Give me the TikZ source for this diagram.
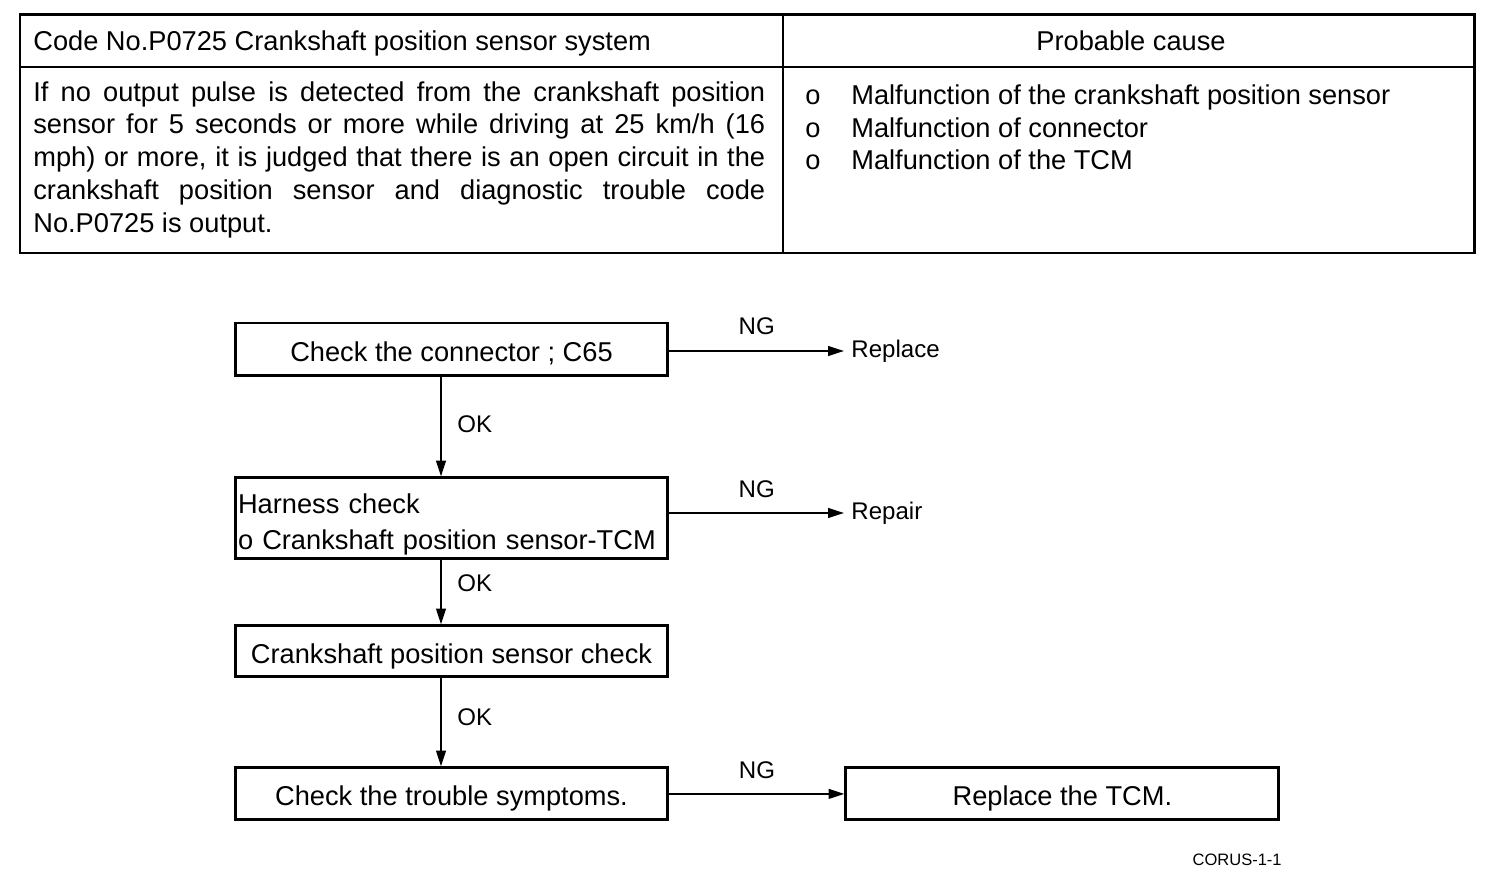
\documentclass[tikz,border=0pt]{standalone}
\usepackage{fontspec}
\setmainfont{Liberation Sans}
\usetikzlibrary{arrows.meta,positioning}
\newcommand{\tabfont}{\fontsize{15.5}{18.7}\selectfont}
\newcommand{\lblfont}{\fontsize{13.7}{16}\selectfont}
\tikzset{
  stepbox/.style={draw, line width=1.7pt, minimum width=8.66cm, minimum height=1.06cm, inner sep=1.7pt, font=\tabfont,
    text height=15pt, text depth=1.4pt},
  flow/.style={-{Triangle[length=9pt,width=5.5pt]}, line width=1.1pt},
  lbl/.style={font=\lblfont},
}
\begin{document}
\begin{tikzpicture}[x=0.02cm,y=-0.02cm,on grid,auto]
  \useasboundingbox (0,0) rectangle (1504,884);
  % table
  \draw[line width=1.7pt] (20,15) rectangle (1474,253);
  \draw[line width=1.2pt] (783,15) -- (783,253) (20,67) -- (1474,67);
  \node[anchor=base west, inner sep=0, font=\tabfont] (code) at (33,51) {Code No.P0725 Crankshaft position sensor system};
  \node[anchor=base, inner sep=0, font=\tabfont] (cause) at (1131,51) {Probable cause};
  \node[anchor=north west, inner sep=0, text width=14.64cm, align=justify, font=\tabfont] (descr) at (33,81)
    {If no output pulse is detected from the crankshaft position\linebreak
     sensor for 5 seconds or more while driving at 25 km/h (16\linebreak
     mph) or more, it is judged that there is an open circuit in the\linebreak
     crankshaft position sensor and diagnostic trouble code\linebreak
     No.P0725 is output.};
  \foreach \txt [count=\i] in {Malfunction of the crankshaft position sensor, Malfunction of connector, Malfunction of the TCM} {
    \node[anchor=base west, inner sep=0, font=\tabfont] (bul\i) at (805,{72.5+\i*32.5}) {o};
    \node[anchor=base west, inner sep=0, font=\tabfont] (item\i) at (851,{72.5+\i*32.5}) {\txt};
  }

  % flow chart
  \node[stepbox] (conn) at (451.5,349.5) {Check the connector ; C65};
  \node[stepbox, minimum height=1.62cm, text width=8.54cm, align=left, font=\fontsize{15.5}{20}\selectfont,
    text height=18.2pt, text depth=23.3pt, below=3.38cm of conn] (harn)
    {Harness check\\o Crankshaft position sensor-TCM};
  \node[stepbox, minimum height=1.02cm, below=2.66cm of harn] (crank) {Crankshaft position sensor check};
  \node[stepbox, minimum height=1.04cm, below=2.85cm of crank] (symp) {Check the trouble symptoms.};
  \node[stepbox, minimum height=1.04cm, right=12.22cm of symp] (tcm) {Replace the TCM.};
  \node[lbl, anchor=west, inner sep=4pt] (repl) at (844,351) {Replace};
  \node[lbl, anchor=west, inner sep=4pt] (rep) at (844,513) {Repair};
  \node[anchor=base east, inner sep=0, font=\fontsize{9.4}{11}\selectfont] (fig) at (1282,865) {CORUS-1-1};

  \path[flow]
    (conn.east |- repl.west) edge node[lbl, above=5.5pt] {NG} (repl.west)
    (harn.east |- rep.west) edge node[lbl, above=5pt] {NG} (rep.west)
    (symp.east) edge node[lbl, above=5pt] {NG} (tcm.west)
    ([xshift=-.21cm]conn.south) edge node[lbl, right=5.5pt, pos=.47] {OK} ([xshift=-.21cm]harn.north)
    ([xshift=-.21cm]harn.south) edge node[lbl, right=5.5pt, pos=.35] {OK} ([xshift=-.21cm]crank.north)
    ([xshift=-.21cm]crank.south) edge node[lbl, right=5.5pt, pos=.44] {OK} ([xshift=-.21cm]symp.north);
\end{tikzpicture}
\end{document}
